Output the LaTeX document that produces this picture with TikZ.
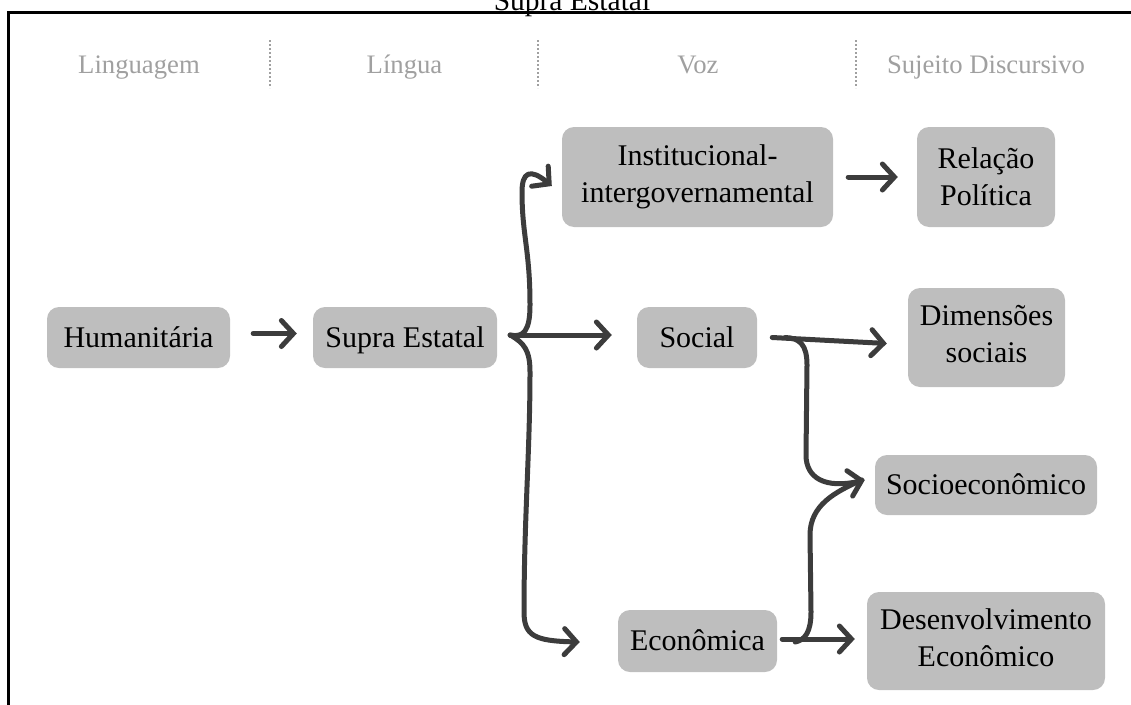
\documentclass[tikz,border=0pt]{standalone}
\usepackage{fontspec}
\setmainfont{Liberation Serif}
\usetikzlibrary{arrows.meta}
\definecolor{boxfill}{RGB}{190,190,190}
\definecolor{linkcol}{RGB}{60,60,60}
\definecolor{headcol}{RGB}{160,160,160}
\begin{document}
\begin{tikzpicture}[x=1pt,y=-1pt,
  box/.style={fill=boxfill, rounded corners=12pt, inner sep=0pt, align=center,
    font=\fontsize{30}{37}\selectfont, text=black},
  single/.style={text height=22pt, text depth=3pt},
  head/.style={text=headcol, font=\fontsize{26.7}{32}\selectfont, anchor=base},
  sep/.style={draw=headcol, line width=1.5pt, dash pattern=on 2pt off 2pt},
  link/.style={draw=linkcol, line width=5pt, line cap=round, line join=round},
  tip/.style={link, -{Straight Barb[length=12pt,width=26pt,line cap=round]}},
]
\useasboundingbox (0,0) rectangle (1131,704);

% caption above the frame
\node[anchor=base, font=\fontsize{29.5}{37}\selectfont] (title) at (572,10) {Supra Estatal};

% frame
\draw[line width=2.5pt] (8.5,710) -- (8.5,12.5) -- (1140,12.5);

% column headers and separators
\node[head] (hLing) at (139,73) {Linguagem};
\node[head] (hLingua) at (404.5,73) {Língua};
\node[head] (hVoz) at (698,73) {Voz};
\node[head] (hSuj) at (986,73) {Sujeito Discursivo};
\draw[sep] (270,40) -- (270,88);
\draw[sep] (538,40) -- (538,88);
\draw[sep] (856,40) -- (856,88);

% boxes
\node[box, single, minimum width=183pt, minimum height=61pt] (hum) at (138.5,337.5) {Humanitária};
\node[box, single, minimum width=184pt, minimum height=61pt] (sup) at (405,337.5) {Supra Estatal};
\node[box, minimum width=271pt, minimum height=100pt] (inst) at (697.5,177) {Institucional-\\intergovernamental};
\node[box, minimum width=138pt, minimum height=100pt] (rel) at (986,177) {Relação\\Política};
\node[box, single, minimum width=120pt, minimum height=61pt] (soc) at (697,337.5) {Social};
\node[box, minimum width=157pt, minimum height=99pt] (dim) at (986.5,337.5) {Dimensões\\sociais\vphantom{ç}};
\node[box, single, minimum width=222pt, minimum height=60pt] (sec) at (986,485) {Socioeconômico};
\node[box, minimum width=238pt, minimum height=98pt] (des) at (986,641) {Desenvolvimento\\Econômico\vphantom{ç}};
\node[box, single, minimum width=159pt, minimum height=62pt] (eco) at (697.5,641) {Econômica};

% straight arrows
\draw[tip] ([xshift=23pt,yshift=4pt]hum.east) -- ([xshift=-16pt,yshift=4pt]sup.west);
\draw[tip] ([xshift=15pt,yshift=0pt]inst.east) -- ([xshift=-19pt,yshift=0pt]rel.west);

% brace from Supra Estatal to the three voices
\coordinate (bt) at ([xshift=13pt,yshift=2.5pt]sup.east);
\draw[tip] (bt) .. controls (524,338) and (530,330) .. (530,305)
  .. controls (530,250) and (522,235) .. (522,192)
  .. controls (522,172) and (530,168) .. ([xshift=-10pt,yshift=-9pt]inst.west);
\draw[tip] (bt) -- ([xshift=-25pt,yshift=2.5pt]soc.west);
\draw[tip] (bt) .. controls (524,343) and (530,350) .. (530,372)
  .. controls (530,450) and (524,520) .. (524,612)
  .. controls (524,636) and (535,641) .. ([xshift=-38pt,yshift=-1pt]eco.west);

% Social and Econômica to the discursive subjects
\draw[tip] ([xshift=15pt]soc.east) -- ([xshift=-21pt,yshift=-6pt]dim.west);
\draw[tip] ([xshift=28pt]soc.east) .. controls (800,338) and (807,345) .. (807,365) -- (806,455)
  .. controls (806,478) and (825,489) .. ([xshift=-10pt,yshift=5pt]sec.west);
\draw[tip] ([xshift=5pt,yshift=2pt]eco.east) -- ([xshift=-12pt,yshift=2pt]des.west);
\draw[link] ([xshift=18pt,yshift=-1pt]eco.east) .. controls (805,640) and (811,632) .. (811,612) -- (810,535)
  .. controls (810,505) and (835,492) .. ([xshift=-13pt,yshift=5pt]sec.west);
\end{tikzpicture}
\end{document}
